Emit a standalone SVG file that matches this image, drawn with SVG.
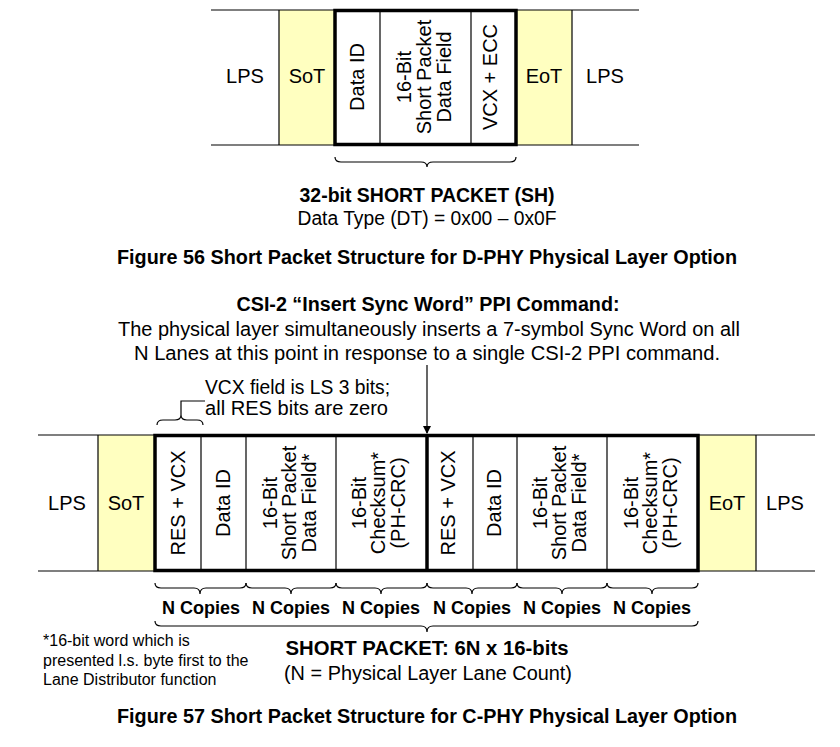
<svg xmlns="http://www.w3.org/2000/svg" width="840" height="747" viewBox="0 0 840 747">
  <style>
    text { font-family: "Liberation Sans", Arial, sans-serif; fill: #000; }
    .t { font-size: 20px; text-anchor: middle; }
    .b { font-size: 20px; font-weight: bold; text-anchor: middle; }
    .nc { font-size: 18px; font-weight: bold; text-anchor: middle; }
    .note { font-size: 16px; }
    .lbl { font-size: 20px; }
    .thin { stroke: #000; stroke-width: 1.2; fill: none; }
    .thick { stroke: #000; stroke-width: 3.5; fill: none; }
    .sync { fill: #FFFFC0; stroke: none; }
    .brace { stroke: #000; stroke-width: 1.2; fill: none; }
  </style>
  <defs>
    <marker id="arrow" markerWidth="8" markerHeight="8" refX="7" refY="4" orient="auto" markerUnits="userSpaceOnUse">
      <path d="M0,0 L8,4 L0,8 Z" fill="#000"/>
    </marker>
  </defs>

  <!-- D-PHY short packet -->
  <g id="dphy">
    <rect class="sync" x="279" y="10" width="56" height="135"/>
    <rect class="sync" x="516" y="10" width="56" height="135"/>
    <line class="thin" x1="211" y1="10" x2="639" y2="10"/>
    <line class="thin" x1="211" y1="145" x2="639" y2="145"/>
    <line class="thin" x1="279" y1="10" x2="279" y2="145"/>
    <line class="thin" x1="572" y1="10" x2="572" y2="145"/>
    <line class="thin" x1="380" y1="10" x2="380" y2="145"/>
    <line class="thin" x1="471" y1="10" x2="471" y2="145"/>
    <rect class="thick" x="335" y="10.5" width="181" height="134"/>

    <g id="d-lps-left"><text class="t" x="245" y="83">LPS</text></g>
    <g id="d-sot"><text class="t" x="307" y="83">SoT</text></g>
    <g id="d-dataid"><text class="t" transform="translate(364,77) rotate(-90)">Data ID</text></g>
    <g id="d-field">
      <text class="t" transform="translate(411,77) rotate(-90)">16-Bit</text>
      <text class="t" transform="translate(431,77) rotate(-90)">Short Packet</text>
      <text class="t" transform="translate(451,77) rotate(-90)">Data Field</text>
    </g>
    <g id="d-vcx"><text class="t" transform="translate(497,77) rotate(-90)">VCX + ECC</text></g>
    <g id="d-eot"><text class="t" x="544" y="83">EoT</text></g>
    <g id="d-lps-right"><text class="t" x="605" y="83">LPS</text></g>

    <path class="brace" d="M335,157 Q335,162 341,162 L421,162 Q427,162 427,167 Q427,162 433,162 L510,162 Q516,162 516,157"/>

    <text class="b" x="427" y="202" textLength="255" lengthAdjust="spacingAndGlyphs">32-bit SHORT PACKET (SH)</text>
    <text class="t" x="427" y="225" textLength="259" lengthAdjust="spacingAndGlyphs">Data Type (DT) = 0x00 – 0x0F</text>
    <text class="b" x="427" y="264" textLength="620" lengthAdjust="spacingAndGlyphs">Figure 56 Short Packet Structure for D-PHY Physical Layer Option</text>
  </g>

  <!-- C-PHY short packet -->
  <g id="cphy-header">
    <text class="b" x="428" y="311" textLength="383" lengthAdjust="spacingAndGlyphs">CSI-2 “Insert Sync Word” PPI Command:</text>
    <text class="t" x="429" y="336" textLength="622" lengthAdjust="spacingAndGlyphs">The physical layer simultaneously inserts a 7-symbol Sync Word on all</text>
    <text class="t" x="427" y="360" textLength="586" lengthAdjust="spacingAndGlyphs">N Lanes at this point in response to a single CSI-2 PPI command.</text>
    <text class="lbl" x="205" y="394" textLength="185" lengthAdjust="spacingAndGlyphs">VCX field is LS 3 bits;</text>
    <text class="lbl" x="205" y="415" textLength="183" lengthAdjust="spacingAndGlyphs">all RES bits are zero</text>
  </g>

  <g id="cphy">
    <rect class="sync" x="98" y="435" width="57" height="136"/>
    <rect class="sync" x="698" y="435" width="58" height="136"/>
    <line class="thin" x1="38" y1="435" x2="815" y2="435"/>
    <line class="thin" x1="38" y1="571" x2="815" y2="571"/>
    <line class="thin" x1="98" y1="435" x2="98" y2="571"/>
    <line class="thin" x1="756" y1="435" x2="756" y2="571"/>
    <line class="thin" x1="201" y1="435" x2="201" y2="571"/>
    <line class="thin" x1="246" y1="435" x2="246" y2="571"/>
    <line class="thin" x1="336" y1="435" x2="336" y2="571"/>
    <line class="thin" x1="473" y1="435" x2="473" y2="571"/>
    <line class="thin" x1="517" y1="435" x2="517" y2="571"/>
    <line class="thin" x1="607" y1="435" x2="607" y2="571"/>
    <line class="thick" x1="427" y1="435" x2="427" y2="571"/>
    <rect class="thick" x="155" y="435.5" width="543" height="135"/>

    <g id="c-lps-left"><text class="t" x="67" y="510">LPS</text></g>
    <g id="c-sot"><text class="t" x="126" y="510">SoT</text></g>
    <g id="c-res1"><text class="t" transform="translate(185,503) rotate(-90)">RES + VCX</text></g>
    <g id="c-id1"><text class="t" transform="translate(230,503) rotate(-90)">Data ID</text></g>
    <g id="c-field1">
      <text class="t" transform="translate(277,503) rotate(-90)">16-Bit</text>
      <text class="t" transform="translate(296,503) rotate(-90)">Short Packet</text>
      <text class="t" transform="translate(316,503) rotate(-90)">Data Field*</text>
    </g>
    <g id="c-crc1">
      <text class="t" transform="translate(366,503) rotate(-90)">16-Bit</text>
      <text class="t" transform="translate(385,503) rotate(-90)">Checksum*</text>
      <text class="t" transform="translate(405,503) rotate(-90)">(PH-CRC)</text>
    </g>
    <g id="c-res2"><text class="t" transform="translate(455,503) rotate(-90)">RES + VCX</text></g>
    <g id="c-id2"><text class="t" transform="translate(501,503) rotate(-90)">Data ID</text></g>
    <g id="c-field2">
      <text class="t" transform="translate(547,503) rotate(-90)">16-Bit</text>
      <text class="t" transform="translate(566,503) rotate(-90)">Short Packet</text>
      <text class="t" transform="translate(586,503) rotate(-90)">Data Field*</text>
    </g>
    <g id="c-crc2">
      <text class="t" transform="translate(638,503) rotate(-90)">16-Bit</text>
      <text class="t" transform="translate(657,503) rotate(-90)">Checksum*</text>
      <text class="t" transform="translate(677,503) rotate(-90)">(PH-CRC)</text>
    </g>
    <g id="c-eot"><text class="t" x="727" y="510">EoT</text></g>
    <g id="c-lps-right"><text class="t" x="785" y="510">LPS</text></g>
  </g>

  <g id="connectors">
    <line class="thin" x1="427" y1="365" x2="427" y2="433" marker-end="url(#arrow)"/>
    <path class="brace" d="M157,425 Q157,420 163,420 L175,420 Q181,420 181,415 L181,401 L205,401 M181,415 Q181,420 187,420 L197,420 Q203,420 203,425"/>
  </g>

  <g id="copies">
    <path class="brace" d="M155,583 Q155,588 161,588 L194,588 Q200,588 200,594 Q200,588 206,588 L240,588 Q246,588 246,583"/>
    <path class="brace" d="M246,583 Q246,588 252,588 L285,588 Q291,588 291,594 Q291,588 297,588 L330,588 Q336,588 336,583"/>
    <path class="brace" d="M336,583 Q336,588 342,588 L375,588 Q381,588 381,594 Q381,588 387,588 L421,588 Q427,588 427,583"/>
    <path class="brace" d="M427,583 Q427,588 433,588 L466,588 Q472,588 472,594 Q472,588 478,588 L511,588 Q517,588 517,583"/>
    <path class="brace" d="M517,583 Q517,588 523,588 L556,588 Q562,588 562,594 Q562,588 568,588 L601,588 Q607,588 607,583"/>
    <path class="brace" d="M607,583 Q607,588 613,588 L646,588 Q652,588 652,594 Q652,588 658,588 L692,588 Q698,588 698,583"/>
    <text class="nc" x="201" y="614">N Copies</text>
    <text class="nc" x="291" y="614">N Copies</text>
    <text class="nc" x="381" y="614">N Copies</text>
    <text class="nc" x="472" y="614">N Copies</text>
    <text class="nc" x="562" y="614">N Copies</text>
    <text class="nc" x="652" y="614">N Copies</text>
    <path class="brace" d="M155,621 Q155,626 161,626 L421,626 Q427,626 427,632 Q427,626 433,626 L692,626 Q698,626 698,621"/>
  </g>

  <g id="footer">
    <text class="note" x="43" y="646">*16-bit word which is</text>
    <text class="note" x="43" y="666">presented l.s. byte first to the</text>
    <text class="note" x="43" y="685">Lane Distributor function</text>
    <text class="b" x="427" y="655" textLength="283" lengthAdjust="spacingAndGlyphs">SHORT PACKET: 6N x 16-bits</text>
    <text class="t" x="428" y="680" textLength="288" lengthAdjust="spacingAndGlyphs">(N = Physical Layer Lane Count)</text>
    <text class="b" x="427" y="723" textLength="620" lengthAdjust="spacingAndGlyphs">Figure 57 Short Packet Structure for C-PHY Physical Layer Option</text>
  </g>
</svg>
